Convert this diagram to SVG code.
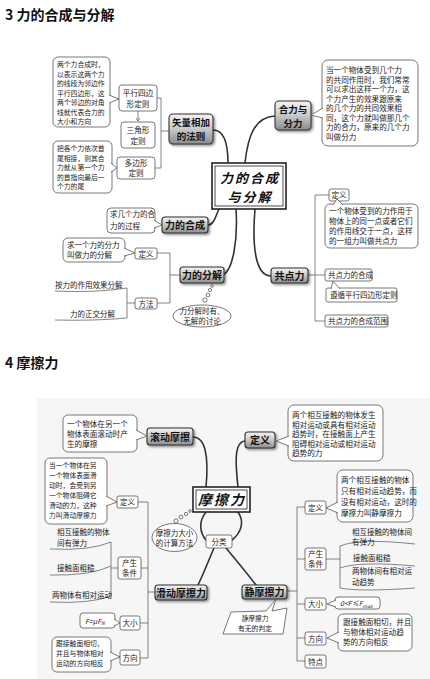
<svg xmlns="http://www.w3.org/2000/svg" width="430" height="679" viewBox="0 0 430 679">
<defs>
<linearGradient id="g" x1="0" y1="0" x2="0" y2="1">
<stop offset="0" stop-color="#f4f4f4"/><stop offset="0.5" stop-color="#c8c8c8"/><stop offset="1" stop-color="#8c8c8c"/>
</linearGradient>
<filter id="sh" x="-20%" y="-20%" width="150%" height="160%"><feDropShadow dx="1.5" dy="1.5" stdDeviation="0.8" flood-color="#000" flood-opacity="0.45"/></filter>
</defs>
<style>
text{font-family:"Noto Sans CJK SC","Noto Sans",sans-serif;fill:#222}
.h{font-size:14px;font-weight:bold;fill:#111}
.t{font-size:7.6px}
.s{font-size:7.5px}
.x{font-size:6.8px}
.n{font-size:10px;font-weight:bold;fill:#111}
.n2{font-size:9.5px;font-weight:bold;fill:#111}
.c{text-anchor:middle}
.node{fill:url(#g);stroke:#333;stroke-width:1.1;filter:url(#sh)}
.box{fill:#fff;stroke:#555;stroke-width:0.8}
.tail{fill:#fff;stroke:#555;stroke-width:0.8}
.con{fill:none;stroke:#333;stroke-width:1.6;stroke-linecap:round}
.ln{fill:none;stroke:#666;stroke-width:0.8}
.center{fill:#fff;stroke:#222;stroke-width:1.6}
.ctext{font-size:13px;font-weight:bold;font-style:italic;fill:#111;letter-spacing:2px}
.ctext2{font-size:14px;font-weight:bold;font-style:italic;fill:#111;letter-spacing:2px}
.bub{fill:#fff;stroke:#555;stroke-width:0.8}
</style>

<text class="h" x="5" y="20">3 力的合成与分解</text>
<text class="h" x="5" y="368">4 摩擦力</text>

<rect x="37" y="398" width="393" height="281" fill="#f6f6f6"/>

<g id="connectors">
<!-- part 1 -->
<path class="con" d="M213,130 C225,130 228,145 228,163"/>
<path class="con" d="M245,163 C248,135 255,117 275,116"/>
<path class="con" d="M208,225 C214,225 216,215 219,209"/>
<path class="con" d="M223,275 C233,270 238,240 236,209"/>
<path class="con" d="M255,209 C252,245 255,276 271,276"/>
<path class="ln" d="M157,98 H161 V168 H155 M161,131 H169"/>
<path class="ln" d="M138,111 V121 M136,118 L138,121 L140,118"/>
<path class="ln" d="M349,195 H315 V321 H325 M308,275 H325"/>
<path class="ln" d="M157,253 H170 V303 H157 M170,275 H180"/>
<path class="ln" d="M55,291 Q95,293 127,288 V318 Q95,321 55,320 M127,303 H135"/>
<!-- part 2 -->
<path class="con" d="M193,437 C205,437 209,455 206,487"/>
<path class="con" d="M245,441 C233,442 236,468 238,487"/>
<path class="con" d="M206,512 C198,522 200,533 206,540"/>
<path class="con" d="M238,512 C245,522 241,533 232,540"/>
<path class="con" d="M214,548 C208,562 203,575 198,585"/>
<path class="con" d="M226,548 C236,560 246,572 256,585"/>
<path class="ln" d="M138,502 H148 V658 H140 M141,568 H148 M140,623 H148 M148,592 H155"/>
<path class="ln" d="M50,549 Q90,551 111,542 V596 Q90,604 50,602 M50,575 Q90,576 111,566 M111,568 H118"/>
<path class="ln" d="M326,507 H297 V661 H305 M287,591 H297 M297,559 H305 M297,604 H305 M297,638 H305"/>
<path class="ln" d="M326,559 H340 M415,544 Q360,538 340,546 V588 Q360,592 415,588 M415,566 Q360,561 340,568"/>
</g>

<!-- ===== Part 1 ===== -->
<g id="call-parallel">
<rect class="box" x="53" y="57" width="57" height="70" rx="5"/>
<path class="tail" d="M109,95 L119,99 L109,103"/>
<text class="x" x="57" y="67">两个力合成时，</text>
<text class="x" x="57" y="76.5">以表示这两个力</text>
<text class="x" x="57" y="86">的线段为邻边作</text>
<text class="x" x="57" y="95.5">平行四边形，这</text>
<text class="x" x="57" y="105">两个邻边的对角</text>
<text class="x" x="57" y="114.5">线就代表合力的</text>
<text class="x" x="57" y="124">大小和方向</text>
</g>
<g id="parallel"><rect class="box" x="119" y="85" width="38" height="26" rx="3"/>
<text class="t c" x="138" y="96">平行四边</text><text class="t c" x="138" y="107">形定则</text></g>
<g id="triangle"><rect class="box" x="121" y="122" width="34" height="26" rx="3"/>
<text class="t c" x="138" y="133">三角形</text><text class="t c" x="138" y="144">定则</text></g>
<g id="polygon"><rect class="box" x="117" y="157" width="38" height="22" rx="3"/>
<text class="t c" x="136" y="166">多边形</text><text class="t c" x="136" y="176">定则</text></g>
<g id="call-polygon">
<rect class="box" x="53" y="141" width="59" height="52" rx="5"/>
<path class="tail" d="M111,163 L117,168 L111,172"/>
<text class="x" x="57" y="151">把各个力依次首</text>
<text class="x" x="57" y="160.5">尾相接，则其合</text>
<text class="x" x="57" y="170">力就从第一个力</text>
<text class="x" x="57" y="179.5">的首指向最后一</text>
<text class="x" x="57" y="189">个力的尾</text>
</g>
<g id="vector-add"><rect class="node" x="169" y="114" width="44" height="30" rx="4"/>
<text class="n2 c" x="191" y="126">矢量相加</text><text class="n2 c" x="191" y="140">的法则</text></g>

<g id="center1">
<rect class="center" x="212" y="163" width="74" height="46"/>
<rect x="215" y="166" width="68" height="40" fill="none" stroke="#222" stroke-width="0.8"/>
<text class="ctext c" x="250" y="182.5">力的合成</text>
<text class="ctext c" x="250" y="201.5">与分解</text>
</g>

<g id="resultant"><rect class="node" x="275" y="101" width="36" height="29" rx="4"/>
<text class="n2 c" x="293" y="112.5">合力与</text><text class="n2 c" x="293" y="126.5">分力</text></g>
<g id="call-resultant">
<rect class="box" x="322" y="60" width="96" height="86" rx="6"/>
<path class="tail" d="M323,108 L311,115 L323,118"/>
<text class="t" x="326" y="73">当一个物体受到几个力</text>
<text class="t" x="326" y="82.5">的共同作用时，我们常常</text>
<text class="t" x="326" y="92">可以求出这样一个力，这</text>
<text class="t" x="326" y="101.5">个力产生的效果跟原来</text>
<text class="t" x="326" y="111">的几个力的共同效果相</text>
<text class="t" x="326" y="120.5">同，这个力就叫做那几个</text>
<text class="t" x="326" y="130">力的合力，原来的几个力</text>
<text class="t" x="326" y="139.5">叫做分力</text>
</g>

<g id="def1"><rect class="box" x="329" y="189" width="20" height="12" rx="2"/>
<text class="s c" x="339" y="198">定义</text></g>
<g id="call-concurrent">
<rect class="box" x="325" y="204" width="93" height="44" rx="5"/>
<path class="tail" d="M333,205 L337,199 L343,205"/>
<text class="t" x="329" y="214">一个物体受到的力作用于</text>
<text class="t" x="329" y="224">物体上的同一点或者它们</text>
<text class="t" x="329" y="234">的作用线交于一点，这样</text>
<text class="t" x="329" y="244">的一组力叫做共点力</text>
</g>
<g id="concurrent"><rect class="node" x="271" y="268" width="37" height="15" rx="3"/>
<text class="n c" x="289.5" y="279.5">共点力</text></g>
<g id="conc-compose"><rect class="box" x="325" y="269" width="47" height="12" rx="2"/>
<text class="s" x="328" y="278">共点力的合成</text></g>
<g id="conc-rule"><rect class="box" x="326" y="288" width="71" height="14" rx="2"/>
<path class="tail" d="M331,289 L333,281 L340,289"/>
<text class="s" x="330" y="298">遵循平行四边形定则</text></g>
<g id="conc-range"><rect class="box" x="325" y="315" width="63" height="12" rx="2"/>
<text class="s" x="328" y="324">共点力的合成范围</text></g>

<g id="compose"><rect class="node" x="162" y="217" width="46" height="16" rx="3"/>
<text class="n c" x="185" y="229">力的合成</text></g>
<g id="call-compose"><rect class="box" x="107" y="208" width="48" height="25" rx="4"/>
<path class="tail" d="M154,220 L162,225 L154,228"/>
<text class="s" x="110" y="217">求几个力的合</text><text class="s" x="110" y="229">力的过程</text></g>

<g id="decompose"><rect class="node" x="180" y="267" width="44" height="16" rx="3"/>
<text class="n c" x="202" y="279">力的分解</text></g>
<g id="def-decomp"><rect class="box" x="135" y="248" width="22" height="11" rx="2"/>
<text class="s c" x="146" y="256.5">定义</text></g>
<g id="call-decomp"><rect class="box" x="63" y="238" width="62" height="24" rx="5"/>
<path class="tail" d="M124,248 L135,253 L124,256"/>
<text class="s" x="67" y="248">求一个力的分力</text><text class="s" x="67" y="258">叫做力的分解</text></g>
<g id="method"><rect class="box" x="135" y="298" width="22" height="11" rx="2"/>
<text class="s c" x="146" y="306.5">方法</text></g>
<text class="s" x="55" y="288">按力的作用效果分解</text>
<text class="s" x="70" y="317">力的正交分解</text>
<g id="bubble1">
<circle class="bub" cx="212" cy="286" r="1.3"/><circle class="bub" cx="210" cy="290" r="1.6"/>
<circle class="bub" cx="208" cy="295" r="1.9"/><circle class="bub" cx="205" cy="300" r="2.1"/>
<ellipse class="bub" cx="202" cy="316" rx="29" ry="11"/>
<text class="s c" x="202" y="314">力分解时有、</text><text class="s c" x="202" y="324">无解的讨论</text>
</g>

<!-- ===== Part 2 ===== -->
<g id="rolling"><rect class="node" x="147" y="428" width="46" height="17" rx="3"/>
<text class="n c" x="170" y="440.5">滚动摩擦</text></g>
<g id="call-rolling"><rect class="box" x="63" y="415" width="74" height="37" rx="5"/>
<path class="tail" d="M136,430 L147,436 L136,440"/>
<text class="t" x="67" y="427">一个物体在另一个</text>
<text class="t" x="67" y="437">物体表面滚动时产</text>
<text class="t" x="67" y="447">生的摩擦</text></g>

<g id="def-top"><rect class="node" x="245" y="432" width="30" height="16" rx="3"/>
<text class="n c" x="260" y="444">定义</text></g>
<g id="call-def-top"><rect class="box" x="288" y="405" width="95" height="56" rx="6"/>
<path class="tail" d="M289,436 L276,441 L289,446"/>
<text class="t" x="292" y="418">两个相互接触的物体发生</text>
<text class="t" x="292" y="427.5">相对运动或具有相对运动</text>
<text class="t" x="292" y="437">趋势时，在接触面上产生</text>
<text class="t" x="292" y="446.5">阻碍相对运动或相对运动</text>
<text class="t" x="292" y="456">趋势的力</text></g>

<g id="center2">
<rect class="center" x="193" y="487" width="57" height="25"/>
<rect x="196" y="490" width="51" height="19" fill="none" stroke="#222" stroke-width="0.8"/>
<text class="ctext2 c" x="222" y="505">摩擦力</text>
</g>
<g id="classify"><rect class="box" x="206" y="535" width="26" height="13" rx="2"/>
<text class="s c" x="219" y="544.5">分类</text></g>
<g id="bubble2">
<circle class="bub" cx="190" cy="511" r="1.3"/><circle class="bub" cx="186" cy="514" r="1.6"/>
<circle class="bub" cx="181" cy="517" r="1.9"/><circle class="bub" cx="176" cy="521" r="2.1"/>
<ellipse class="bub" cx="174.5" cy="537.5" rx="22.5" ry="14"/>
<text class="s c" x="174.5" y="536">摩擦力大小</text><text class="s c" x="174.5" y="546">的计算方法</text>
</g>

<g id="call-slide-def"><rect class="box" x="45" y="458" width="62" height="66" rx="5"/>
<path class="tail" d="M106,496 L117,502 L106,506"/>
<text class="x" x="49" y="468">当一个物体在另</text>
<text class="x" x="49" y="478">一个物体表面滑</text>
<text class="x" x="49" y="488">动时，会受到另</text>
<text class="x" x="49" y="498">一个物体阻碍它</text>
<text class="x" x="49" y="508">滑动的力，这种</text>
<text class="x" x="49" y="518">力叫滑动摩擦力</text></g>
<g id="slide-def"><rect class="box" x="117" y="496" width="21" height="12" rx="2"/>
<text class="s c" x="127.5" y="505">定义</text></g>
<text class="s" x="57" y="535">相互接触的物体</text>
<text class="s" x="57" y="546">间有弹力</text>
<text class="s" x="57" y="571">接触面粗糙</text>
<text class="s" x="52" y="598">两物体有相对运动</text>
<g id="slide-cond"><rect class="box" x="118" y="557" width="23" height="22" rx="2"/>
<text class="t c" x="129.5" y="566">产生</text><text class="t c" x="129.5" y="576">条件</text></g>
<g id="call-slide-size"><rect class="box" x="80" y="613" width="35" height="15" rx="3"/>
<path class="tail" d="M114,619 L120,623 L114,626"/>
<text x="85" y="623.5" font-size="7" font-style="italic">F=μF<tspan font-size="5" dy="1.5">N</tspan></text></g>
<g id="slide-size"><rect class="box" x="120" y="616" width="20" height="14" rx="2"/>
<text class="t c" x="130" y="626">大小</text></g>
<g id="call-slide-dir"><rect class="box" x="52" y="637" width="59" height="35" rx="5"/>
<path class="tail" d="M110,652 L120,657 L110,661"/>
<text class="x" x="56" y="646">跟接触面相切，</text>
<text class="x" x="56" y="656">并且与物体相对</text>
<text class="x" x="56" y="666">运动的方向相反</text></g>
<g id="slide-dir"><rect class="box" x="120" y="650" width="20" height="15" rx="2"/>
<text class="t c" x="130" y="660.5">方向</text></g>
<g id="sliding"><rect class="node" x="155" y="585" width="52" height="15" rx="3"/>
<text class="n c" x="181" y="596.5">滑动摩擦力</text></g>

<g id="static"><rect class="node" x="242" y="585" width="45" height="14" rx="3"/>
<text class="n c" x="264.5" y="596">静摩擦力</text></g>
<g id="call-static"><path class="box" d="M231,612 L266,611 L276,599 L272,611 L287,608 L283,634 L223,634 Z"/>
<text class="x c" x="255" y="620.5">静摩擦力</text><text class="x c" x="255" y="631">有无的判定</text></g>

<g id="static-def"><rect class="box" x="305" y="501" width="21" height="13" rx="2"/>
<text class="s c" x="315.5" y="510.5">定义</text></g>
<g id="call-static-def"><rect class="box" x="337" y="470" width="76" height="52" rx="6"/>
<path class="tail" d="M338,502 L326,508 L338,513"/>
<text class="t" x="341" y="483">两个相互接触的物体</text>
<text class="t" x="341" y="494">只有相对运动趋势，而</text>
<text class="t" x="341" y="505">没有相对运动，这时的</text>
<text class="t" x="341" y="516">摩擦力叫静摩擦力</text></g>
<g id="static-cond"><rect class="box" x="305" y="548" width="21" height="22" rx="2"/>
<text class="t c" x="315.5" y="557">产生</text><text class="t c" x="315.5" y="567">条件</text></g>
<text class="s" x="352" y="535">相互接触的物体间</text>
<text class="s" x="352" y="545">有弹力</text>
<text class="s" x="353" y="561">接触面粗糙</text>
<text class="s" x="352" y="574">两物体间有相对运</text>
<text class="s" x="352" y="585">动趋势</text>
<g id="static-size"><rect class="box" x="305" y="598" width="21" height="12" rx="2"/>
<text class="s c" x="315.5" y="607">大小</text></g>
<g id="call-static-size"><rect class="box" x="335" y="597" width="45" height="12" rx="3"/>
<path class="tail" d="M336,600 L327,604 L336,607"/>
<text x="340" y="606" font-size="7" font-style="italic">0&lt;F≤F<tspan font-size="5" dy="1.5">max</tspan></text></g>
<g id="static-dir"><rect class="box" x="305" y="632" width="21" height="13" rx="2"/>
<text class="s c" x="315.5" y="641.5">方向</text></g>
<g id="call-static-dir"><rect class="box" x="338" y="614" width="74" height="37" rx="5"/>
<path class="tail" d="M339,632 L327,638 L339,643"/>
<text class="t" x="343" y="625">跟接触面相切，并且</text>
<text class="t" x="343" y="635">与物体相对运动趋</text>
<text class="t" x="343" y="645">势的方向相反</text></g>
<g id="static-feature"><rect class="box" x="305" y="655" width="21" height="13" rx="2"/>
<text class="s c" x="315.5" y="664.5">特点</text></g>
</svg>
